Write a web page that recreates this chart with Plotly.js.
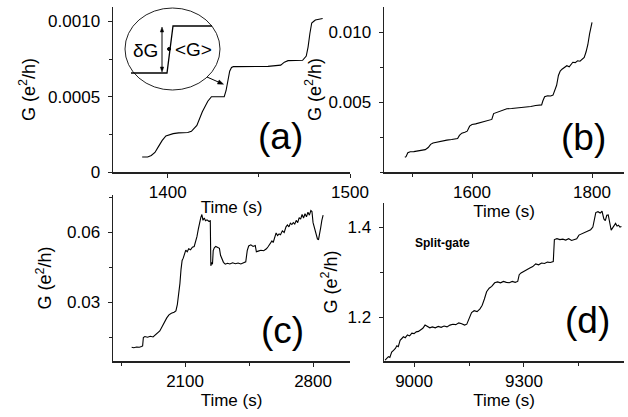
<!DOCTYPE html>
<html>
<head>
<meta charset="utf-8">
<script src="https://cdn.plot.ly/plotly-3.0.1.min.js"></script>
<style>html,body{margin:0;padding:0;background:#fff;}#chart{width:628px;height:417px;}</style>
</head>
<body>
<div id="chart"></div>
<script>
// ---- Panel (a) ----
const timeA = [1386,1389,1391,1393,1395,1397,1399,1401,1403,1406,1409,1411,1413,1416,1419,1422,1424,1428,1431,1432,1433,1434,1435,1436,1438,1445,1455,1462,1464,1466,1470,1474,1476,1477,1478,1479,1480,1481,1483,1485];
const condA = [0.00010,0.00010,0.00011,0.00013,0.00017,0.00021,0.00024,0.00025,0.000255,0.00026,0.00026,0.000262,0.00027,0.00031,0.00040,0.00047,0.00050,0.00050,0.00050,0.00054,0.00060,0.00067,0.000695,0.0007,0.0007,0.0007,0.000702,0.00071,0.00073,0.00074,0.00074,0.000742,0.00077,0.00083,0.00092,0.00099,0.001,0.00101,0.001015,0.00102];
// ---- Panel (b) ----
const timeB = [1488,1490,1493,1497,1503,1510,1516,1522,1527,1531,1535,1542,1550,1558,1566,1572,1576,1579,1583,1588,1592,1596,1600,1606,1612,1618,1624,1629,1633,1636,1640,1646,1652,1658,1666,1674,1682,1690,1698,1706,1712,1716,1718,1721,1726,1731,1735,1738,1741,1744,1747,1750,1754,1758,1762,1765,1768,1772,1776,1780,1784,1787,1790,1793,1796,1798,1800];
const condB = [0.00105,0.0011,0.00138,0.00145,0.00146,0.0015,0.00154,0.0016,0.00175,0.00198,0.00208,0.00215,0.00222,0.00228,0.00232,0.00236,0.0024,0.00262,0.00278,0.00285,0.00292,0.00328,0.0034,0.00344,0.00352,0.00358,0.00366,0.00372,0.00376,0.00418,0.00425,0.00432,0.00442,0.00452,0.00454,0.00458,0.0046,0.00462,0.00468,0.00476,0.00478,0.0048,0.00508,0.00538,0.00545,0.00544,0.0055,0.0058,0.0062,0.0069,0.00722,0.00735,0.00748,0.0076,0.00752,0.0077,0.00785,0.00782,0.00795,0.00792,0.00805,0.0082,0.00858,0.0091,0.0099,0.0104,0.0107];
// ---- Panel (c) ----
const timeC = [1808,1820,1835,1850,1862,1868,1872,1880,1895,1910,1925,1938,1950,1962,1975,1988,2000,2012,2025,2040,2050,2058,2065,2072,2078,2084,2090,2098,2104,2112,2120,2130,2140,2150,2158,2165,2172,2180,2186,2192,2198,2205,2212,2220,2230,2238,2241,2246,2250,2254,2260,2268,2278,2288,2294,2300,2310,2320,2332,2345,2360,2375,2390,2405,2420,2432,2440,2448,2460,2472,2484,2490,2500,2515,2530,2545,2555,2565,2575,2582,2590,2598,2606,2614,2622,2632,2642,2652,2660,2668,2676,2684,2692,2700,2708,2716,2724,2732,2740,2748,2756,2764,2772,2780,2788,2794,2800,2808,2816,2824,2830,2836,2842,2848,2855];
const condC = [0.0106,0.0104,0.0107,0.0106,0.0109,0.0112,0.0148,0.0152,0.0149,0.0153,0.0150,0.0158,0.0168,0.0176,0.0195,0.0218,0.0232,0.0245,0.0252,0.0256,0.0262,0.0290,0.0330,0.0380,0.0440,0.0478,0.0488,0.0505,0.0522,0.0515,0.0528,0.0524,0.0535,0.0538,0.0556,0.0580,0.0610,0.0650,0.0662,0.0675,0.0650,0.0660,0.0648,0.0652,0.0646,0.0648,0.0455,0.0470,0.0462,0.0520,0.0532,0.0538,0.0535,0.0530,0.0500,0.0485,0.0470,0.0462,0.0466,0.0463,0.0468,0.0464,0.0467,0.0463,0.0468,0.0472,0.0520,0.0540,0.0545,0.0538,0.0542,0.0515,0.0518,0.0522,0.0520,0.0528,0.0538,0.0548,0.0562,0.0555,0.0578,0.0596,0.0585,0.0592,0.0588,0.0605,0.0598,0.0622,0.0630,0.0622,0.0638,0.0632,0.0640,0.0634,0.0650,0.0640,0.0662,0.0655,0.0675,0.0660,0.0678,0.0665,0.0685,0.0672,0.0692,0.0688,0.0640,0.0615,0.0590,0.0570,0.0568,0.0590,0.0620,0.0650,0.0672];
// ---- Panel (d) ----
const timeD = [8921,8926,8930,8934,8939,8944,8949,8953,8957,8962,8966,8971,8976,8982,8988,8994,9000,9006,9012,9018,9024,9030,9036,9043,9050,9058,9066,9074,9082,9090,9098,9106,9114,9122,9130,9138,9144,9150,9157,9164,9172,9180,9186,9192,9198,9205,9212,9220,9228,9236,9244,9252,9260,9268,9276,9283,9287,9292,9300,9308,9316,9324,9332,9340,9348,9356,9364,9372,9380,9383,9390,9398,9406,9414,9422,9430,9438,9444,9450,9458,9466,9474,9482,9488,9492,9496,9502,9508,9513,9518,9522,9526,9530,9534,9538,9542,9546,9550,9554,9558,9562,9566];
const condD = [1.104,1.108,1.112,1.110,1.122,1.126,1.130,1.136,1.134,1.148,1.152,1.156,1.154,1.160,1.158,1.164,1.163,1.167,1.168,1.172,1.175,1.182,1.180,1.176,1.178,1.176,1.179,1.177,1.180,1.178,1.182,1.184,1.183,1.187,1.185,1.182,1.184,1.198,1.210,1.214,1.212,1.218,1.226,1.240,1.256,1.264,1.268,1.276,1.278,1.276,1.279,1.277,1.276,1.279,1.277,1.279,1.294,1.298,1.302,1.305,1.309,1.312,1.318,1.316,1.320,1.319,1.322,1.321,1.323,1.372,1.374,1.372,1.373,1.371,1.374,1.370,1.372,1.374,1.382,1.385,1.388,1.390,1.394,1.400,1.420,1.432,1.434,1.431,1.435,1.418,1.414,1.426,1.427,1.405,1.393,1.398,1.404,1.408,1.402,1.404,1.400,1.401];

// tick labels
const tickValsXA = [1400, 1500], tickTextXA = ['1400', '1500'];
const tickValsYA = [0, 0.0005, 0.001], tickTextYA = ['0', '0.0005', '0.0010'];
const tickValsXB = [1600, 1800], tickTextXB = ['1600', '1800'];
const tickValsYB = [0.005, 0.010], tickTextYB = ['0.005', '0.010'];
const tickValsXC = [2100, 2800], tickTextXC = ['2100', '2800'];
const tickValsYC = [0.03, 0.06], tickTextYC = ['0.03', '0.06'];
const tickValsXD = [9000, 9300], tickTextXD = ['9000', '9300'];
const tickValsYD = [1.2, 1.4], tickTextYD = ['1.2', '1.4'];

const W = 628, H = 417;
const px = v => v / W;
const py = v => 1 - v / H;
const FONT = 'Liberation Sans, Arial, sans-serif';

function line(x, y, xa, ya) {
  return {x: x, y: y, xaxis: xa, yaxis: ya, type: 'scatter', mode: 'lines',
    line: {color: '#000', width: 1.1}, hoverinfo: 'skip', showlegend: false};
}
const data = [
  line(timeA, condA, 'x', 'y'),
  line(timeB, condB, 'x2', 'y2'),
  line(timeC, condC, 'x3', 'y3'),
  line(timeD, condD, 'x4', 'y4')
];

function ax(domainPx, range, tv, tt, minorDtick, anchor, isY, title, standoff) {
  const d = isY ? [py(domainPx[1]), py(domainPx[0])] : [px(domainPx[0]), px(domainPx[1])];
  return {
    domain: d, range: range, anchor: anchor,
    showline: true, linecolor: '#222', linewidth: 1.5, mirror: false,
    showgrid: false, zeroline: false,
    ticks: 'outside', ticklen: 4, tickwidth: 1, tickcolor: '#222',
    tickvals: tv, ticktext: tt, ticklabelstandoff: isY ? 4 : 0,
    minor: {dtick: minorDtick, ticks: 'outside', ticklen: 3, tickwidth: 1, tickcolor: '#222', showgrid: false},
    tickfont: {family: FONT, size: 17, color: '#000'},
    title: {text: title, font: {family: FONT, size: isY ? 18 : 17, color: '#000'}, standoff: standoff},
    fixedrange: true
  };
}
function path(pts, close) {
  return pts.map((p, i) => (i ? 'L ' : 'M ') + px(p[0]) + ',' + py(p[1])).join(' ') + (close ? ' Z' : '');
}
function label(x, y, text, size) {
  return {xref: 'paper', yref: 'paper', x: px(x), y: py(y), xanchor: 'center', yanchor: 'middle',
    text: text, showarrow: false, font: {family: FONT, size: size, color: '#000'}};
}
const gTitle = 'G (e<sup>2</sup>/h)';
const layout = {
  width: W, height: H,
  margin: {l: 0, r: 0, t: 0, b: 0},
  paper_bgcolor: '#fff', plot_bgcolor: 'rgba(0,0,0,0)',
  font: {family: FONT, color: '#000'},
  showlegend: false,
  xaxis: ax([113, 350], [1370, 1500], tickValsXA, tickTextXA, 50, 'y', false, 'Time (s)', 0),
  yaxis: ax([7, 172], [0, 0.0010963], tickValsYA, tickTextYA, 0.00025, 'x', true, gTitle, 8),
  xaxis2: ax([384, 624], [1453.3, 1853.3], tickValsXB, tickTextXB, 100, 'y2', false, 'Time (s)', 4),
  yaxis2: ax([7, 172], [0, 0.0118], tickValsYB, tickTextYB, 0.0025, 'x2', true, gTitle, 2),
  xaxis3: ax([113, 350], [1706, 3002], tickValsXC, tickTextXC, 350, 'y3', false, 'Time (s)', 4),
  yaxis3: ax([195, 361], [0.004714, 0.075857], tickValsYC, tickTextYC, 0.015, 'x3', true, gTitle, 10),
  xaxis4: ax([384, 624], [8918, 9573], tickValsXD, tickTextXD, 150, 'y4', false, 'Time (s)', 4),
  yaxis4: ax([203, 361], [1.10222, 1.45333], tickValsYD, tickTextYD, 0.1, 'x4', true, gTitle, 5),
  shapes: [
    // inset ellipse
    {type: 'circle', xref: 'paper', yref: 'paper', x0: px(125), x1: px(220), y0: py(90), y1: py(8),
     line: {color: '#222', width: 1}},
    // schematic step
    {type: 'path', xref: 'paper', yref: 'paper', path: path([[131, 73], [167, 73], [173, 26], [212, 26]]),
     line: {color: '#000', width: 1.3}},
    // midpoint dot
    {type: 'circle', xref: 'paper', yref: 'paper', x0: px(167.5), x1: px(170.5), y0: py(50.5), y1: py(47.5),
     fillcolor: '#000', line: {color: '#000', width: 1}},
    // double arrow deltaG
    {type: 'line', xref: 'paper', yref: 'paper', x0: px(162), x1: px(162), y0: py(30), y1: py(70),
     line: {color: '#000', width: 1}},
    {type: 'path', xref: 'paper', yref: 'paper', path: path([[162, 27], [160.3, 32], [163.7, 32]], true),
     fillcolor: '#000', line: {color: '#000', width: 0.5}},
    {type: 'path', xref: 'paper', yref: 'paper', path: path([[162, 72], [160.3, 67], [163.7, 67]], true),
     fillcolor: '#000', line: {color: '#000', width: 0.5}},
    // pointer arrow from inset to curve
    {type: 'line', xref: 'paper', yref: 'paper', x0: px(207), x1: px(219), y0: py(77), y1: py(82.3),
     line: {color: '#000', width: 1}},
    {type: 'path', xref: 'paper', yref: 'paper', path: path([[223.5, 84.2], [217.4, 84.0], [219.2, 80.0]], true),
     fillcolor: '#000', line: {color: '#000', width: 0.5}}
  ],
  annotations: [
    label(280, 137, '(a)', 37),
    label(583, 138, '(b)', 37),
    label(282, 330, '(c)', 37),
    label(587, 320, '(d)', 37),
    label(442, 243, '<b>Split-gate</b>', 12),
    label(145, 50, 'δG', 19),
    label(193, 49, '&lt;G&gt;', 19)
  ]
};
Plotly.newPlot('chart', data, layout, {staticPlot: true, displayModeBar: false});
</script>
</body>
</html>
